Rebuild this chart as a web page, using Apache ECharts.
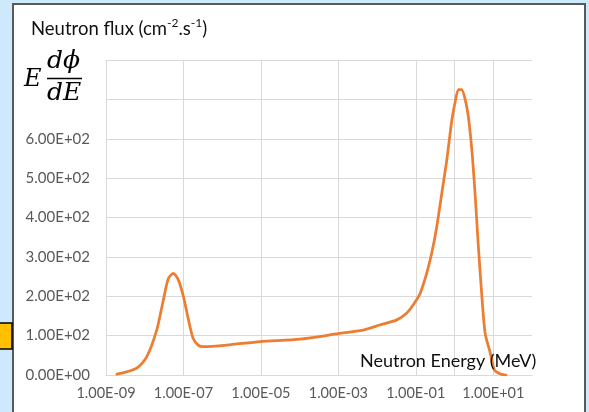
<!DOCTYPE html>
<html>
<head>
<meta charset="utf-8">
<script src="https://cdn.jsdelivr.net/npm/echarts@6/dist/echarts.min.js"></script>
<style>
  html, body { margin: 0; padding: 0; background: #cde9fb; }
  #chart { width: 589px; height: 412px; }
</style>
</head>
<body>
<div id="chart"></div>
<script>
// Neutron energy spectrum, E·dφ/dE versus energy (MeV), log energy axis.
// Energies are stored as log10(E / MeV).
const logEnergy = [-8.72, -8.21, -7.95, -7.69, -7.52, -7.39, -7.26, -7.13, -7.00, -6.87,
                   -6.75, -6.62, -6.49, -5.88, -5.02, -3.99, -3.00, -2.36, -1.93, -1.49,
                   -1.24, -1.07, -0.89, -0.72, -0.59, -0.46, -0.33, -0.20, -0.07, 0.01,
                   0.10, 0.18, 0.33, 0.44, 0.53, 0.61, 0.70, 0.79, 0.925, 1.03, 1.20, 1.33];
const fluxValues = [2, 17, 46, 114, 190, 245, 258, 241, 199, 140,
                    93, 76, 72, 76, 85, 91, 105, 114, 127, 140,
                    157, 178, 207, 258, 309, 376, 461, 546, 647, 690,
                    725, 725, 673, 579, 461, 334, 207, 106, 55, 13, 2, 0];

// Energy axis tick positions (log10 MeV) and flux axis settings
const energyTicks = [-9, -7, -5, -3, -1, 1];
const energyMin = -9, energyMax = 2;
const fluxMin = 0, fluxMax = 800, fluxStep = 100, fluxLabelMax = 600;

const titleText = 'Neutron flux (cm';
const xAxisTitle = 'Neutron Energy (MeV)';

function pad2(n) { return (n < 10 ? '0' : '') + n; }
function sciLabel(v) {
  if (v === 0) return '0.00E+00';
  const e = Math.floor(Math.log10(Math.abs(v)) + 1e-9);
  const m = v / Math.pow(10, e);
  return m.toFixed(2) + 'E' + (e < 0 ? '-' : '+') + pad2(Math.abs(e));
}

const chart = echarts.init(document.getElementById('chart'), null, { renderer: 'canvas' });
const font = 'Lato, "Open Sans", sans-serif';
const mathFont = '"DejaVu Serif", "Liberation Serif", serif';

chart.setOption({
  backgroundColor: '#cde9fb',
  animation: false,
  grid: { left: 106, right: 57, top: 60, bottom: 37, containLabel: false },
  xAxis: {
    type: 'value',
    min: energyMin,
    max: energyMax,
    axisLine: { show: true, onZero: false, lineStyle: { color: '#d9d9d9', width: 1 } },
    axisTick: { show: false, customValues: energyTicks },
    axisLabel: {
      customValues: energyTicks,
      color: '#595959', fontFamily: font, fontSize: 14.5, margin: 11,
      formatter: v => '1.00E' + (v < 0 ? '-' : '+') + pad2(Math.abs(Math.round(v)))
    },
    splitLine: { show: true, lineStyle: { color: '#d9d9d9', width: 1 } }
  },
  yAxis: {
    type: 'value',
    min: fluxMin,
    max: fluxMax,
    interval: fluxStep,
    axisLine: { show: true, lineStyle: { color: '#d9d9d9', width: 1 } },
    axisTick: { show: false },
    axisLabel: {
      color: '#595959', fontFamily: font, fontSize: 15, margin: 16,
      formatter: v => (v > fluxLabelMax ? '' : sciLabel(v))
    },
    splitLine: { show: true, lineStyle: { color: '#d9d9d9', width: 1 } }
  },
  series: [{
    type: 'line',
    data: logEnergy.map((x, i) => [x, fluxValues[i]]),
    showSymbol: false,
    smooth: 0.25,
    lineStyle: { color: '#ed7d31', width: 2.75, cap: 'round', join: 'round' },
    itemStyle: { color: '#ed7d31' },
    z: 5
  }],
  graphic: [
    // white chart panel with dark frame
    { type: 'rect', z: -100, shape: { x: 13, y: 4, width: 572, height: 430 },
      style: { fill: '#ffffff', stroke: '#595959', lineWidth: 2 } },
    // small yellow tab at the left edge
    { type: 'rect', z: -99, shape: { x: -2, y: 323, width: 14, height: 26 },
      style: { fill: '#ffc000', stroke: '#000000', lineWidth: 1.5 } },
    // axis title
    { type: 'text', left: 31, top: 17,
      style: {
        text: '{a|' + titleText + '}{s|-2}{a|.s}{s|-1}{a|)}',
        rich: {
          a: { fontFamily: font, fontSize: 18.5, fill: '#111111', lineHeight: 22, verticalAlign: 'bottom' },
          s: { fontFamily: font, fontSize: 12, fill: '#111111', lineHeight: 22, verticalAlign: 'top' }
        }
      } },
    // E dϕ/dE
    { type: 'text', left: 24, top: 68,
      style: { text: 'E', font: 'italic 24px ' + mathFont, fill: '#000000' } },
    { type: 'text', left: 47, top: 49,
      style: { text: 'dϕ', font: 'italic 25px ' + mathFont, fill: '#000000' } },
    { type: 'line', shape: { x1: 47, y1: 78.5, x2: 82, y2: 78.5 },
      style: { stroke: '#000000', lineWidth: 1.5 } },
    { type: 'text', left: 47, top: 81,
      style: { text: 'dE', font: 'italic 25px ' + mathFont, fill: '#000000' } },
    // energy axis title
    { type: 'text', left: 360, top: 352, z: 10,
      style: { text: xAxisTitle, fontFamily: font, fontSize: 18, fill: '#111111' } }
  ]
});
</script>
</body>
</html>
